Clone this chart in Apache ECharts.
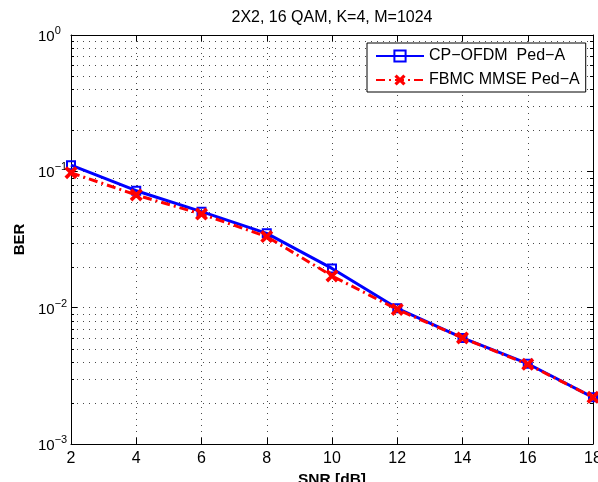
<!DOCTYPE html>
<html>
<head>
<meta charset="utf-8">
<script src="https://cdn.jsdelivr.net/npm/echarts@6/dist/echarts.min.js"></script>
<style>
  html, body { margin: 0; padding: 0; background: #fff; }
  #chart { width: 598px; height: 482px; }
</style>
</head>
<body>
<div id="chart"></div>
<script>
// SNR points (dB) and measured bit error rates
const snrDb = [2, 4, 6, 8, 10, 12, 14, 16, 18];
const berCpOfdm = [0.111, 0.0721, 0.0506, 0.0351, 0.0194, 0.0099, 0.0060, 0.00388, 0.0022];
const berFbmcMmse = [0.0977, 0.0671, 0.0486, 0.0332, 0.0171, 0.0097, 0.0060, 0.00384, 0.0022];

const seriesNames = ['CP\u2212OFDM  Ped\u2212A', 'FBMC MMSE Ped\u2212A'];
const chartTitle = '2X2, 16 QAM, K=4, M=1024';
const xName = 'SNR [dB]';
const yName = 'BER';

// x-axis range and y-axis decades
const xMin = 2, xMax = 18, xStep = 2;
const yMin = 0.001, yMax = 1;

// minor log grid values: 2..9 times each decade
const minorGrid = [];
for (let e = -3; e < 0; e++) {
  for (let m = 2; m <= 9; m++) minorGrid.push([xMin, m * Math.pow(10, e)]);
}

const FONT = '"Liberation Sans", Arial, Helvetica, sans-serif';
const dotted = { color: '#4a4a4a', width: 1, type: [1, 5] };

const GRID = { left: 71, right: 5, top: 35, bottom: 38 };
const W = 598;

const crossPath = 'path://M0,2 L2,0 L5,3 L8,0 L10,2 L7,5 L10,8 L8,10 L5,7 L2,10 L0,8 L3,5 Z';

function supLabel(v) {
  const e = Math.round(Math.log10(v));
  const s = e < 0 ? '\u2212' + (-e) : String(e);
  return '{b|10}{s|' + s + '}';
}

const chart = echarts.init(document.getElementById('chart'), null, { renderer: 'canvas' });

chart.setOption({
  animation: false,
  backgroundColor: '#fff',
  textStyle: { fontFamily: FONT, color: '#000' },
  // title centred over the plot area
  graphic: [{
    type: 'text',
    x: GRID.left + (W - GRID.left - GRID.right) / 2,
    y: 18,
    silent: true,
    style: {
      text: chartTitle,
      fill: '#000',
      font: '16px ' + FONT,
      textAlign: 'center',
      textVerticalAlign: 'middle'
    }
  }],
  grid: Object.assign({ containLabel: false, outerBoundsMode: 'none' }, GRID),
  legend: {
    data: seriesNames,
    orient: 'vertical',
    left: 367,
    top: 43,
    padding: [5, 6, 4, 8],
    itemWidth: 48,
    itemHeight: 14,
    itemGap: 8,
    backgroundColor: '#fff',
    borderColor: '#000',
    borderWidth: 1,
    borderRadius: 0,
    textStyle: { fontFamily: FONT, fontSize: 16, color: '#000' }
  },
  xAxis: [{
    type: 'value',
    min: xMin, max: xMax, interval: xStep,
    name: xName,
    nameLocation: 'middle',
    nameGap: 28,
    nameTextStyle: { fontFamily: FONT, fontSize: 15.5, fontWeight: 'bold', color: '#000' },
    axisLine: { show: true, onZero: false, lineStyle: { color: '#000', width: 1 } },
    axisTick: { show: true, inside: true, length: 6, lineStyle: { color: '#000' } },
    axisLabel: { margin: 7, fontFamily: FONT, fontSize: 16, color: '#000' },
    splitLine: { show: true, lineStyle: dotted }
  }, {
    type: 'value',
    position: 'top',
    min: xMin, max: xMax, interval: xStep,
    axisLine: { show: true, onZero: false, lineStyle: { color: '#000', width: 1 } },
    axisTick: { show: true, inside: true, length: 6, lineStyle: { color: '#000' } },
    axisLabel: { show: false },
    splitLine: { show: false }
  }],
  yAxis: [{
    type: 'log',
    logBase: 10,
    min: yMin, max: yMax,
    name: yName,
    nameLocation: 'middle',
    nameGap: 40,
    nameTextStyle: { fontFamily: FONT, fontSize: 15, fontWeight: 'bold', color: '#000' },
    axisLine: { show: true, onZero: false, lineStyle: { color: '#000', width: 1 } },
    axisTick: { show: true, inside: true, length: 6, lineStyle: { color: '#000' } },
    axisLabel: {
      margin: 33,
      align: 'left',
      formatter: supLabel,
      rich: {
        b: { fontFamily: FONT, fontSize: 15, lineHeight: 19, verticalAlign: 'bottom', color: '#000' },
        s: { fontFamily: FONT, fontSize: 11, lineHeight: 12, verticalAlign: 'top', color: '#000' }
      }
    },
    splitLine: { show: true, lineStyle: dotted }
  }, {
    type: 'log',
    logBase: 10,
    position: 'right',
    min: yMin, max: yMax,
    axisLine: { show: true, onZero: false, lineStyle: { color: '#000', width: 1 } },
    axisTick: { show: true, inside: true, length: 6, lineStyle: { color: '#000' } },
    axisLabel: { show: false },
    splitLine: { show: false }
  }],
  series: [{
    // minor log grid lines with inner ticks on both y axes
    type: 'custom',
    name: 'minor-grid',
    silent: true,
    z: 1,
    xAxisIndex: 0,
    yAxisIndex: 0,
    data: minorGrid,
    encode: { x: 0, y: 1 },
    renderItem: function (params, api) {
      const cs = params.coordSys;
      const y = Math.round(api.coord([api.value(0), api.value(1)])[1]) + 0.5;
      return {
        type: 'group',
        children: [
          { type: 'line', shape: { x1: cs.x, y1: y, x2: cs.x + cs.width, y2: y },
            style: { stroke: '#4a4a4a', lineWidth: 1, lineDash: [1, 5] } },
          { type: 'line', shape: { x1: cs.x, y1: y, x2: cs.x + 3, y2: y },
            style: { stroke: '#000', lineWidth: 1 } },
          { type: 'line', shape: { x1: cs.x + cs.width - 3, y1: y, x2: cs.x + cs.width, y2: y },
            style: { stroke: '#000', lineWidth: 1 } }
        ]
      };
    }
  }, {
    name: seriesNames[0],
    type: 'line',
    z: 3,
    data: snrDb.map((x, i) => [x, berCpOfdm[i]]),
    symbol: 'rect',
    symbolSize: 8,
    showAllSymbol: true,
    lineStyle: { color: '#0000ff', width: 3, type: 'solid' },
    itemStyle: { color: 'rgba(255,255,255,0)', borderColor: '#0000ff', borderWidth: 2 },
    emphasis: { disabled: true }
  }, {
    name: seriesNames[1],
    type: 'line',
    z: 4,
    data: snrDb.map((x, i) => [x, berFbmcMmse[i]]),
    symbol: crossPath,
    symbolSize: 13,
    showAllSymbol: true,
    lineStyle: { color: '#ff0000', width: 3, type: [9, 4, 2, 4] },
    itemStyle: { color: '#ff0000', borderWidth: 0 },
    emphasis: { disabled: true }
  }]
});
</script>
</body>
</html>
